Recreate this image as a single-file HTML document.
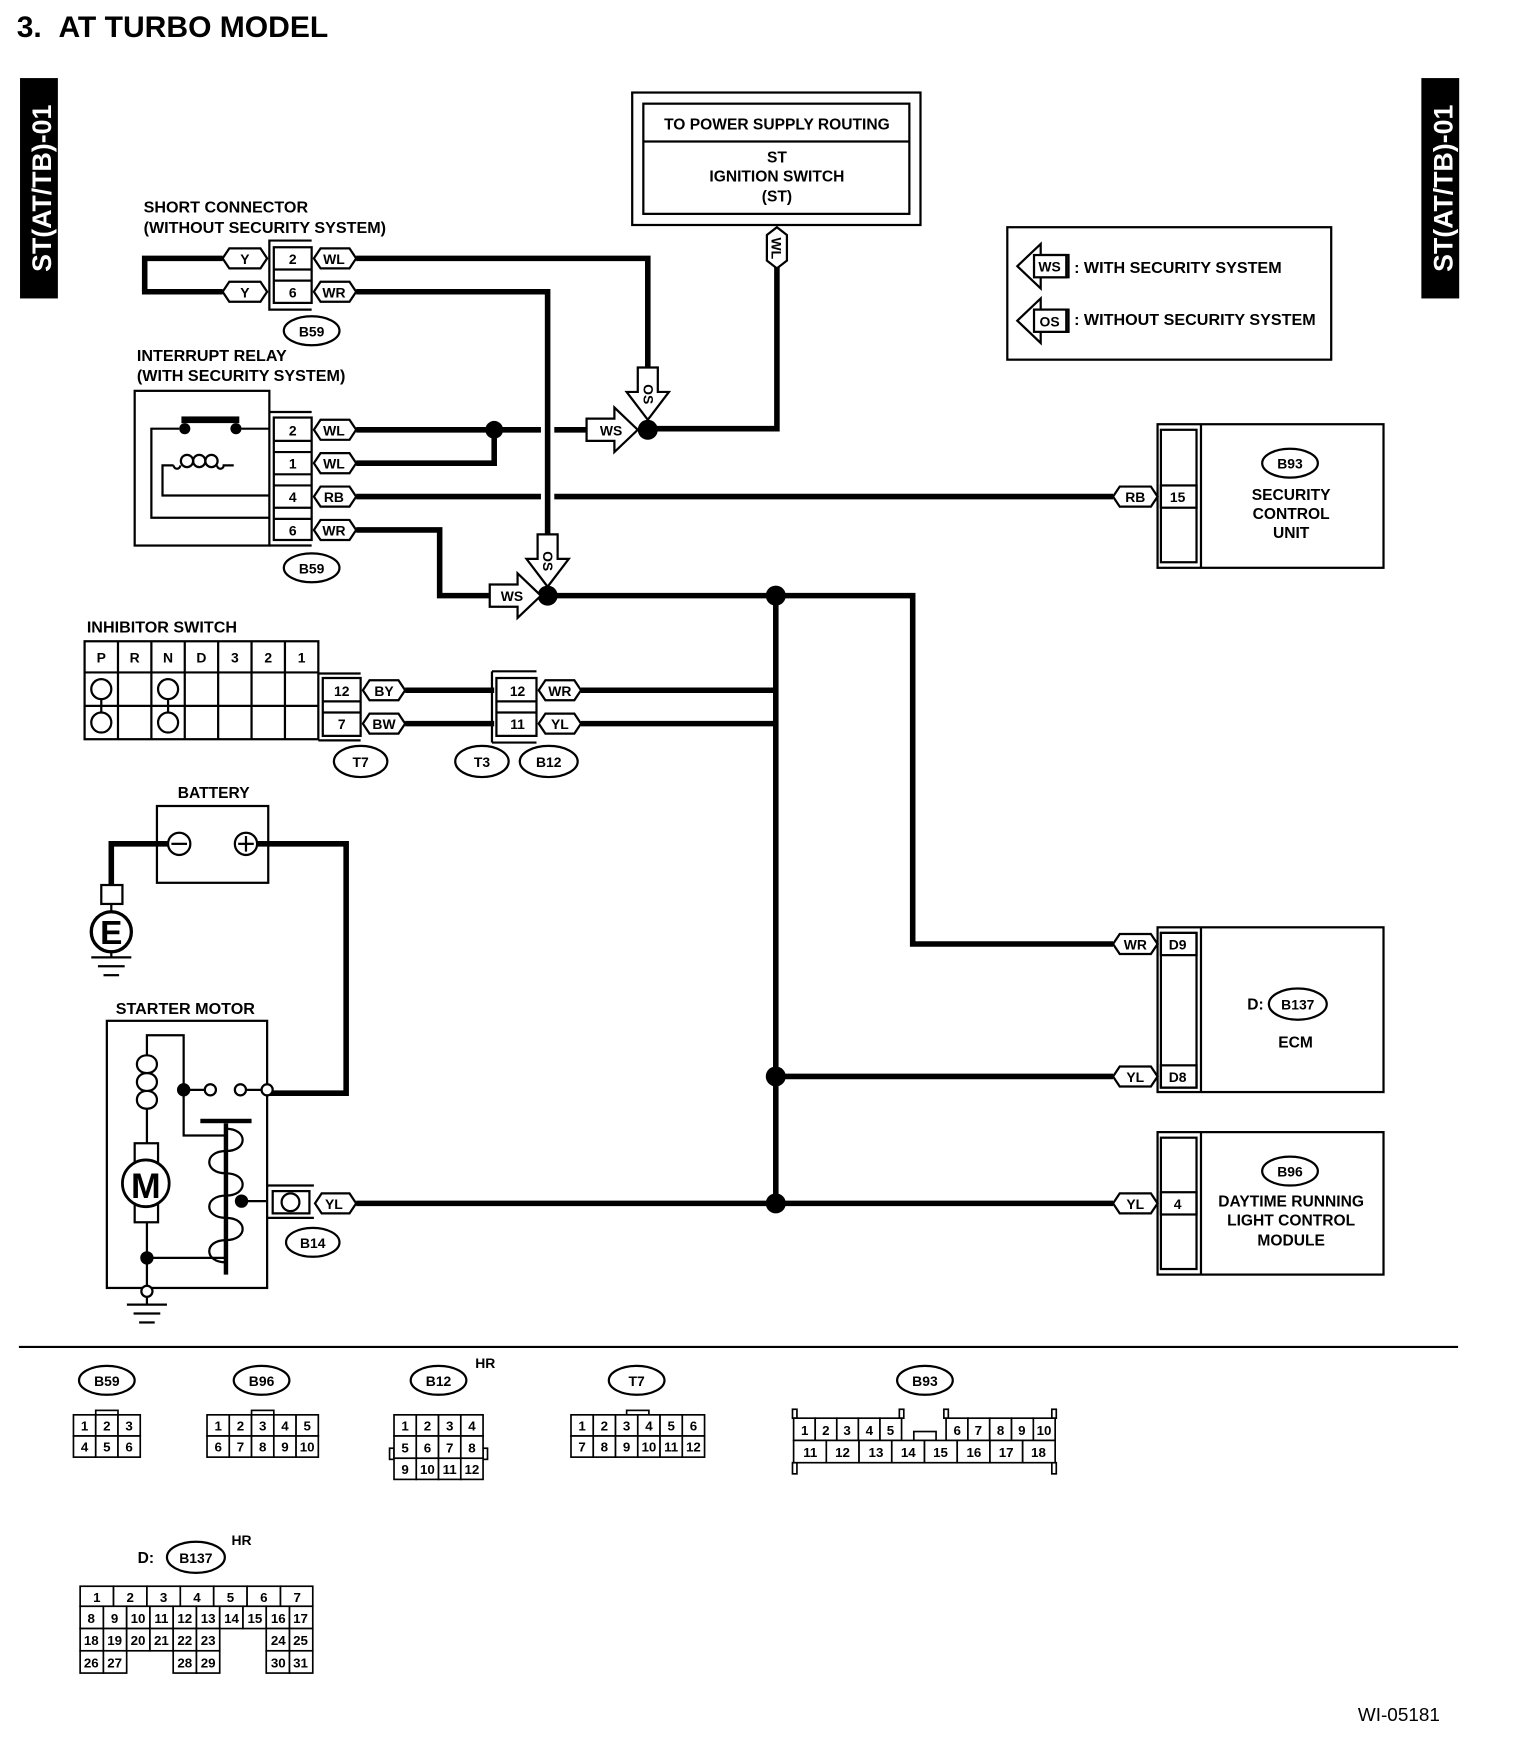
<!DOCTYPE html>
<html><head><meta charset="utf-8"><style>
html,body{margin:0;padding:0;background:#fff;}
svg{display:block;}
text{font-family:"Liberation Sans",sans-serif;font-weight:bold;fill:#000;}
.t{font-size:14.5px;}
.s{font-size:12.5px;text-anchor:middle;}
.w{fill:none;stroke:#000;stroke-width:5;}
.l{fill:none;stroke:#000;stroke-width:2;}
.tg{fill:#fff;stroke:#000;stroke-width:2;}
.c{fill:#fff;stroke:#000;stroke-width:1.5;}
.g{font-size:12px;font-weight:normal;text-anchor:middle;}
</style></head><body>
<svg width="1536" height="1740" viewBox="0 0 1380 1563" xmlns="http://www.w3.org/2000/svg">
<rect width="1380" height="1563" fill="#fff"/>
<text x="15" y="33" style="font-size:27px">3.&#160;&#160;AT TURBO MODEL</text>
<rect x="18" y="70" width="34" height="198" fill="#000"/>
<text transform="translate(46,169) rotate(-90)" style="font-size:24px;fill:#fff;text-anchor:middle">ST(AT/TB)-01</text>
<rect x="1277" y="70" width="34" height="198" fill="#000"/>
<text transform="translate(1305,169) rotate(-90)" style="font-size:24px;fill:#fff;text-anchor:middle">ST(AT/TB)-01</text>

<!-- power supply box -->
<rect x="568" y="83" width="259" height="119" class="l"/>
<rect x="578" y="93" width="239" height="99" class="l"/>
<line x1="578" y1="127" x2="817" y2="127" class="l"/>
<text x="698" y="116" class="s" style="font-size:14px">TO POWER SUPPLY ROUTING</text>
<text x="698" y="146" class="s" style="font-size:14px">ST</text>
<text x="698" y="163" class="s" style="font-size:14px">IGNITION SWITCH</text>
<text x="698" y="181" class="s" style="font-size:14px">(ST)</text>

<!-- legend -->
<rect x="905" y="204" width="291" height="119" class="l"/>
<polygon points="960,229 935,229 935,219 914,239 935,259 935,249 960,249" class="tg"/>
<rect x="929" y="229" width="29" height="20" class="tg"/>
<text x="943" y="244" class="s">WS</text>
<text x="965" y="245" class="t">: WITH SECURITY SYSTEM</text>
<polygon points="960,278 935,278 935,268 914,288 935,308 935,298 960,298" class="tg"/>
<rect x="929" y="278" width="29" height="20" class="tg"/>
<text x="943" y="293" class="s">OS</text>
<text x="965" y="292" class="t">: WITHOUT SECURITY SYSTEM</text>

<!-- wires -->
<polyline points="698,240 698,385 582,385" class="w"/>
<polyline points="320,232 582,232 582,340" class="w"/>
<polyline points="320,262 492,262 492,490" class="w"/>
<polyline points="200,232 130,232 130,262 200,262" class="w"/>
<polyline points="320,386 486,386" class="w"/>
<polyline points="498,386 527,386" class="w"/>
<polyline points="320,416 444,416 444,386" class="w"/>
<polyline points="320,446 486,446" class="w"/>
<polyline points="498,446 1000,446" class="w"/>
<polyline points="320,476 395,476 395,535 440,535" class="w"/>
<polyline points="492,535 820,535 820,848 1000,848" class="w"/>
<polyline points="697,535 697,1081" class="w"/>
<polyline points="364,620 444,620" class="w"/>
<polyline points="364,650 444,650" class="w"/>
<polyline points="522,620 697,620" class="w"/>
<polyline points="522,650 697,650" class="w"/>
<polyline points="697,967 1000,967" class="w"/>
<polyline points="320,1081 1000,1081" class="w"/>
<polyline points="161,758 100,758 100,795" class="w"/>
<polyline points="221,758 311,758 311,982 240,982" class="w"/>
<circle cx="444" cy="386" r="8"/>
<circle cx="582" cy="386" r="9"/>
<circle cx="492" cy="535" r="9"/>
<circle cx="697" cy="535" r="9"/>
<circle cx="697" cy="967" r="9"/>
<circle cx="697" cy="1081" r="9"/>

<!-- WL vertical tag -->
<polygon points="689,211 698,204 707,211 707,234 698,241 689,234" class="tg"/>
<text transform="translate(693,223) rotate(90)" class="s">WL</text>

<!-- OS/WS arrows -->
<polygon points="573,330 591,330 591,352 601,352 582,377 563,352 573,352" class="tg"/>
<text transform="translate(578,354) rotate(90)" class="s">OS</text>
<polygon points="527,376 552,376 552,366 573,386 552,406 552,396 527,396" class="tg"/>
<text x="549" y="391" class="s">WS</text>
<polygon points="483,480 501,480 501,502 511,502 492,527 473,502 483,502" class="tg"/>
<text transform="translate(488,504) rotate(90)" class="s">OS</text>
<polygon points="440,525 465,525 465,515 486,535 465,555 465,545 440,545" class="tg"/>
<text x="460" y="540" class="s">WS</text>

<!-- short connector -->
<text x="129" y="191" class="t">SHORT CONNECTOR</text>
<text x="129" y="209" class="t">(WITHOUT SECURITY SYSTEM)</text>
<polyline points="280,216 242,216 242,278 280,278" class="l"/>
<rect x="246" y="222" width="34" height="50" class="l"/>
<line x1="246" y1="242" x2="280" y2="242" class="l"/><line x1="246" y1="252" x2="280" y2="252" class="l"/>
<text x="263" y="237" class="s">2</text><text x="263" y="267" class="s">6</text>
<polygon points="206,223 234,223 240,232 234,241 206,241 200,232" class="tg"/><text x="220" y="237" class="s">Y</text>
<polygon points="206,253 234,253 240,262 234,271 206,271 200,262" class="tg"/><text x="220" y="267" class="s">Y</text>
<polygon points="288,223 314,223 320,232 314,241 288,241 282,232" class="tg"/><text x="300" y="237" class="s">WL</text>
<polygon points="288,253 314,253 320,262 314,271 288,271 282,262" class="tg"/><text x="300" y="267" class="s">WR</text>
<ellipse cx="280" cy="297" rx="25" ry="13" class="l"/><text x="280" y="302" class="s">B59</text>

<!-- interrupt relay -->
<text x="123" y="324" class="t">INTERRUPT RELAY</text>
<text x="123" y="342" class="t">(WITH SECURITY SYSTEM)</text>
<rect x="121" y="351" width="121" height="139" class="l"/>
<line x1="242" y1="370" x2="280" y2="370" class="l"/><line x1="242" y1="490" x2="280" y2="490" class="l"/>
<rect x="246" y="375" width="34" height="110" class="l"/>
<line x1="246" y1="396" x2="280" y2="396" class="l"/><line x1="246" y1="406" x2="280" y2="406" class="l"/>
<line x1="246" y1="426" x2="280" y2="426" class="l"/><line x1="246" y1="436" x2="280" y2="436" class="l"/>
<line x1="246" y1="456" x2="280" y2="456" class="l"/><line x1="246" y1="466" x2="280" y2="466" class="l"/>
<text x="263" y="391" class="s">2</text><text x="263" y="421" class="s">1</text><text x="263" y="451" class="s">4</text><text x="263" y="481" class="s">6</text>
<polygon points="288,377 314,377 320,386 314,395 288,395 282,386" class="tg"/><text x="300" y="391" class="s">WL</text>
<polygon points="288,407 314,407 320,416 314,425 288,425 282,416" class="tg"/><text x="300" y="421" class="s">WL</text>
<polygon points="288,437 314,437 320,446 314,455 288,455 282,446" class="tg"/><text x="300" y="451" class="s">RB</text>
<polygon points="288,467 314,467 320,476 314,485 288,485 282,476" class="tg"/><text x="300" y="481" class="s">WR</text>
<rect x="163" y="374" width="52" height="6"/>
<circle cx="166" cy="385" r="5"/><circle cx="212" cy="385" r="5"/>
<polyline points="161,385 136,385 136,465 242,465" class="l"/>
<polyline points="217,385 242,385" class="l"/>
<polyline points="242,445 146,445 146,418 156,418" class="l"/>
<path d="M156,418 a3,3 0 0 0 6,0" class="l"/>
<circle cx="168" cy="414" r="5.5" class="l"/><circle cx="179" cy="414" r="5.5" class="l"/><circle cx="190" cy="414" r="5.5" class="l"/>
<path d="M195,418 a3,3 0 0 0 6,0 L210,418" class="l"/>
<ellipse cx="280" cy="510" rx="25" ry="13" class="l"/><text x="280" y="515" class="s">B59</text>

<!-- inhibitor switch -->
<text x="78" y="568" class="t">INHIBITOR SWITCH</text>
<rect x="76" y="576" width="210" height="88" class="l"/>
<line x1="76" y1="604" x2="286" y2="604" class="l"/><line x1="76" y1="634" x2="286" y2="634" class="l"/>
<line x1="106" y1="576" x2="106" y2="664" class="l"/><line x1="136" y1="576" x2="136" y2="664" class="l"/>
<line x1="166" y1="576" x2="166" y2="664" class="l"/><line x1="196" y1="576" x2="196" y2="664" class="l"/>
<line x1="226" y1="576" x2="226" y2="664" class="l"/><line x1="256" y1="576" x2="256" y2="664" class="l"/>
<text x="91" y="595" class="s">P</text><text x="121" y="595" class="s">R</text><text x="151" y="595" class="s">N</text><text x="181" y="595" class="s">D</text><text x="211" y="595" class="s">3</text><text x="241" y="595" class="s">2</text><text x="271" y="595" class="s">1</text>
<line x1="91" y1="619" x2="91" y2="649" class="l"/><line x1="151" y1="619" x2="151" y2="649" class="l"/>
<circle cx="91" cy="619" r="9" class="tg"/><circle cx="91" cy="649" r="9" class="tg"/>
<circle cx="151" cy="619" r="9" class="tg"/><circle cx="151" cy="649" r="9" class="tg"/>

<!-- T7 -->
<rect x="290" y="609" width="34" height="52" class="l"/>
<line x1="290" y1="630" x2="324" y2="630" class="l"/><line x1="290" y1="640" x2="324" y2="640" class="l"/>
<line x1="286" y1="605" x2="324" y2="605" class="l"/><line x1="286" y1="665" x2="324" y2="665" class="l"/>
<text x="307" y="625" class="s">12</text><text x="307" y="655" class="s">7</text>
<polygon points="332,611 358,611 364,620 358,629 332,629 326,620" class="tg"/><text x="345" y="625" class="s">BY</text>
<polygon points="332,641 358,641 364,650 358,659 332,659 326,650" class="tg"/><text x="345" y="655" class="s">BW</text>
<!-- T3/B12 -->
<line x1="442" y1="603" x2="482" y2="603" class="l"/><line x1="442" y1="603" x2="442" y2="667" class="l"/><line x1="442" y1="667" x2="482" y2="667" class="l"/>
<rect x="446" y="609" width="36" height="52" class="l"/>
<line x1="446" y1="630" x2="482" y2="630" class="l"/><line x1="446" y1="640" x2="482" y2="640" class="l"/>
<text x="465" y="625" class="s">12</text><text x="465" y="655" class="s">11</text>
<polygon points="490,611 516,611 522,620 516,629 490,629 484,620" class="tg"/><text x="503" y="625" class="s">WR</text>
<polygon points="490,641 516,641 522,650 516,659 490,659 484,650" class="tg"/><text x="503" y="655" class="s">YL</text>
<ellipse cx="324" cy="684" rx="24" ry="14" class="l"/><text x="324" y="689" class="s">T7</text>
<ellipse cx="433" cy="684" rx="24" ry="14" class="l"/><text x="433" y="689" class="s">T3</text>
<ellipse cx="493" cy="684" rx="26" ry="14" class="l"/><text x="493" y="689" class="s">B12</text>

<!-- battery -->
<text x="192" y="717" class="s" style="font-size:14px">BATTERY</text>
<rect x="141" y="724" width="100" height="69" class="l"/>
<circle cx="161" cy="758" r="10" class="tg"/><line x1="154" y1="758" x2="168" y2="758" class="l"/>
<circle cx="221" cy="758" r="10" class="tg"/><line x1="214" y1="758" x2="228" y2="758" class="l"/><line x1="221" y1="751" x2="221" y2="765" class="l"/>
<rect x="91" y="795" width="19" height="17" class="tg"/>
<line x1="100" y1="812" x2="100" y2="819" class="l"/>
<circle cx="100" cy="837" r="18" class="tg" style="stroke-width:3"/>
<text x="100" y="848" style="font-size:30px;text-anchor:middle">E</text>
<line x1="100" y1="855" x2="100" y2="860" class="l"/>
<line x1="82" y1="860" x2="118" y2="860" class="l"/><line x1="88" y1="868" x2="112" y2="868" class="l"/><line x1="93" y1="876" x2="107" y2="876" class="l"/>

<!-- starter motor -->
<text x="104" y="911" class="t">STARTER MOTOR</text>
<rect x="96" y="917" width="144" height="240" class="l"/>
<polyline points="132,948 132,930 165,930 165,1020 204,1020" class="l"/>
<path d="M132,948 c-12,0 -12,16 0,16 c-12,0 -12,16 0,16 c-12,0 -12,16 0,16 M132,948 c12,0 12,16 0,16 c12,0 12,16 0,16 c12,0 12,16 0,16" class="l"/>
<line x1="132" y1="996" x2="132" y2="1027" class="l"/>
<rect x="121" y="1027" width="21" height="71" class="tg"/>
<circle cx="131" cy="1063" r="21" class="tg" style="stroke-width:2.5"/>
<text x="131" y="1076" style="font-size:32px;text-anchor:middle">M</text>
<polyline points="132,1098 132,1157" class="l"/>
<line x1="132" y1="1130" x2="204" y2="1130" class="l"/>
<circle cx="132" cy="1130" r="6"/>
<line x1="165" y1="979" x2="189" y2="979" class="l"/><line x1="216" y1="979" x2="240" y2="979" class="l"/>
<circle cx="165" cy="979" r="6"/>
<circle cx="189" cy="979" r="5" class="tg"/><circle cx="216" cy="979" r="5" class="tg"/><circle cx="240" cy="979" r="5" class="tg"/>
<rect x="180" y="1005" width="46" height="4"/>
<line x1="203" y1="1009" x2="203" y2="1145" class="l" style="stroke-width:4"/>
<path d="M203,1014 c20,0 20,20 0,20 c-20,0 -20,20 0,20 c20,0 20,20 0,20 c-20,0 -20,20 0,20 c20,0 20,20 0,20 c-20,0 -20,20 0,20" class="l"/>
<circle cx="217" cy="1079" r="6"/>
<line x1="217" y1="1079" x2="240" y2="1079" class="l"/>
<line x1="240" y1="1065" x2="282" y2="1065" class="l"/><line x1="240" y1="1094" x2="282" y2="1094" class="l"/>
<rect x="245" y="1070" width="33" height="20" class="tg"/>
<circle cx="261" cy="1080" r="8" class="tg"/>
<polygon points="289,1072 314,1072 320,1081 314,1090 289,1090 283,1081" class="tg"/><text x="300" y="1086" class="s">YL</text>
<ellipse cx="281" cy="1116" rx="24" ry="13" class="l"/><text x="281" y="1121" class="s">B14</text>
<circle cx="132" cy="1160" r="5" class="tg"/>
<line x1="132" y1="1165" x2="132" y2="1172" class="l"/>
<line x1="114" y1="1172" x2="150" y2="1172" class="l"/><line x1="120" y1="1180" x2="144" y2="1180" class="l"/><line x1="125" y1="1188" x2="139" y2="1188" class="l"/>

<!-- B93 security -->
<rect x="1040" y="381" width="203" height="129" class="l"/>
<line x1="1079" y1="381" x2="1079" y2="510" class="l"/>
<rect x="1043" y="386" width="32" height="119" class="l"/>
<rect x="1043" y="436" width="32" height="20" class="l"/>
<text x="1058" y="451" class="s">15</text>
<polygon points="1006,437 1034,437 1040,446 1034,455 1006,455 1000,446" class="tg"/><text x="1020" y="451" class="s">RB</text>
<ellipse cx="1159" cy="416" rx="25" ry="13" class="l"/><text x="1159" y="421" class="s">B93</text>
<text x="1160" y="449" class="s" style="font-size:14px">SECURITY</text>
<text x="1160" y="466" class="s" style="font-size:14px">CONTROL</text>
<text x="1160" y="483" class="s" style="font-size:14px">UNIT</text>

<!-- ECM -->
<rect x="1040" y="833" width="203" height="148" class="l"/>
<line x1="1079" y1="833" x2="1079" y2="981" class="l"/>
<rect x="1043" y="838" width="32" height="139" class="l"/>
<rect x="1043" y="838" width="32" height="20" class="l"/>
<rect x="1043" y="957" width="32" height="20" class="l"/>
<text x="1058" y="853" class="s">D9</text><text x="1058" y="972" class="s">D8</text>
<polygon points="1006,839 1034,839 1040,848 1034,857 1006,857 1000,848" class="tg"/><text x="1020" y="853" class="s">WR</text>
<polygon points="1006,958 1034,958 1040,967 1034,976 1006,976 1000,967" class="tg"/><text x="1020" y="972" class="s">YL</text>
<text x="1128" y="907" class="s" style="font-size:14px">D:</text>
<ellipse cx="1166" cy="902" rx="26" ry="14" class="l"/><text x="1166" y="907" class="s">B137</text>
<text x="1164" y="941" class="s" style="font-size:14px">ECM</text>

<!-- B96 -->
<rect x="1040" y="1017" width="203" height="128" class="l"/>
<line x1="1079" y1="1017" x2="1079" y2="1145" class="l"/>
<rect x="1043" y="1022" width="32" height="118" class="l"/>
<rect x="1043" y="1071" width="32" height="20" class="l"/>
<text x="1058" y="1086" class="s">4</text>
<polygon points="1006,1072 1034,1072 1040,1081 1034,1090 1006,1090 1000,1081" class="tg"/><text x="1020" y="1086" class="s">YL</text>
<ellipse cx="1159" cy="1052" rx="25" ry="13" class="l"/><text x="1159" y="1057" class="s">B96</text>
<text x="1160" y="1084" class="s" style="font-size:14px">DAYTIME RUNNING</text>
<text x="1160" y="1101" class="s" style="font-size:14px">LIGHT CONTROL</text>
<text x="1160" y="1119" class="s" style="font-size:14px">MODULE</text>

<line x1="17" y1="1210" x2="1310" y2="1210" class="l"/>

<!-- bottom connectors -->
<ellipse cx="96" cy="1240" rx="25" ry="13" class="l"/><text x="96" y="1245" class="s">B59</text>
<ellipse cx="235" cy="1240" rx="25" ry="13" class="l"/><text x="235" y="1245" class="s">B96</text>
<ellipse cx="394" cy="1240" rx="25" ry="13" class="l"/><text x="394" y="1245" class="s">B12</text>
<text x="436" y="1229" class="s">HR</text>
<ellipse cx="572" cy="1240" rx="25" ry="13" class="l"/><text x="572" y="1245" class="s">T7</text>
<ellipse cx="831" cy="1240" rx="25" ry="13" class="l"/><text x="831" y="1245" class="s">B93</text>

<g class="c">
<rect x="86" y="1267" width="20" height="4"/>
<rect x="66" y="1271" width="20" height="19"/><rect x="86" y="1271" width="20" height="19"/><rect x="106" y="1271" width="20" height="19"/>
<rect x="66" y="1290" width="20" height="19"/><rect x="86" y="1290" width="20" height="19"/><rect x="106" y="1290" width="20" height="19"/>
<rect x="226" y="1267" width="20" height="4"/>
<rect x="186" y="1271" width="20" height="19"/><rect x="206" y="1271" width="20" height="19"/><rect x="226" y="1271" width="20" height="19"/><rect x="246" y="1271" width="20" height="19"/><rect x="266" y="1271" width="20" height="19"/>
<rect x="186" y="1290" width="20" height="19"/><rect x="206" y="1290" width="20" height="19"/><rect x="226" y="1290" width="20" height="19"/><rect x="246" y="1290" width="20" height="19"/><rect x="266" y="1290" width="20" height="19"/>
<rect x="350" y="1301" width="4" height="10"/><rect x="434" y="1301" width="4" height="10"/>
<rect x="354" y="1271" width="20" height="19"/><rect x="374" y="1271" width="20" height="19"/><rect x="394" y="1271" width="20" height="19"/><rect x="414" y="1271" width="20" height="19"/>
<rect x="354" y="1290" width="20" height="20"/><rect x="374" y="1290" width="20" height="20"/><rect x="394" y="1290" width="20" height="20"/><rect x="414" y="1290" width="20" height="20"/>
<rect x="354" y="1310" width="20" height="19"/><rect x="374" y="1310" width="20" height="19"/><rect x="394" y="1310" width="20" height="19"/><rect x="414" y="1310" width="20" height="19"/>
<rect x="563" y="1267" width="20" height="4"/>
<rect x="513" y="1271" width="20" height="19"/><rect x="533" y="1271" width="20" height="19"/><rect x="553" y="1271" width="20" height="19"/><rect x="573" y="1271" width="20" height="19"/><rect x="593" y="1271" width="20" height="19"/><rect x="613" y="1271" width="20" height="19"/>
<rect x="513" y="1290" width="20" height="19"/><rect x="533" y="1290" width="20" height="19"/><rect x="553" y="1290" width="20" height="19"/><rect x="573" y="1290" width="20" height="19"/><rect x="593" y="1290" width="20" height="19"/><rect x="613" y="1290" width="20" height="19"/>
<rect x="712" y="1266" width="4" height="8"/><rect x="808" y="1266" width="4" height="8"/><rect x="848" y="1266" width="4" height="8"/><rect x="945" y="1266" width="4" height="8"/>
<rect x="712" y="1314" width="4" height="10"/><rect x="945" y="1314" width="4" height="10"/>
<rect x="821" y="1286" width="20" height="8"/>
<rect x="713" y="1274" width="19.4" height="20"/><rect x="732.4" y="1274" width="19.4" height="20"/><rect x="751.8" y="1274" width="19.4" height="20"/><rect x="771.2" y="1274" width="19.4" height="20"/><rect x="790.6" y="1274" width="19.4" height="20"/>
<rect x="850" y="1274" width="19.6" height="20"/><rect x="869.6" y="1274" width="19.6" height="20"/><rect x="889.2" y="1274" width="19.6" height="20"/><rect x="908.8" y="1274" width="19.6" height="20"/><rect x="928.4" y="1274" width="19.6" height="20"/>
<rect x="713" y="1294" width="29.4" height="20"/><rect x="742.4" y="1294" width="29.4" height="20"/><rect x="771.8" y="1294" width="29.4" height="20"/><rect x="801.2" y="1294" width="29.4" height="20"/><rect x="830.6" y="1294" width="29.4" height="20"/><rect x="860" y="1294" width="29.4" height="20"/><rect x="889.4" y="1294" width="29.4" height="20"/><rect x="918.8" y="1294" width="29.2" height="20"/>
<rect x="72" y="1425" width="30" height="18"/><rect x="102" y="1425" width="30" height="18"/><rect x="132" y="1425" width="30" height="18"/><rect x="162" y="1425" width="30" height="18"/><rect x="192" y="1425" width="30" height="18"/><rect x="222" y="1425" width="30" height="18"/><rect x="252" y="1425" width="29" height="18"/>
<rect x="72" y="1443" width="20.9" height="20"/><rect x="92.9" y="1443" width="20.9" height="20"/><rect x="113.8" y="1443" width="20.9" height="20"/><rect x="134.7" y="1443" width="20.9" height="20"/><rect x="155.6" y="1443" width="20.9" height="20"/><rect x="176.5" y="1443" width="20.9" height="20"/><rect x="197.4" y="1443" width="20.9" height="20"/><rect x="218.3" y="1443" width="20.9" height="20"/><rect x="239.2" y="1443" width="20.9" height="20"/><rect x="260.1" y="1443" width="20.9" height="20"/>
<rect x="72" y="1463" width="20.9" height="20"/><rect x="92.9" y="1463" width="20.9" height="20"/><rect x="113.8" y="1463" width="20.9" height="20"/><rect x="134.7" y="1463" width="20.9" height="20"/><rect x="155.6" y="1463" width="20.9" height="20"/><rect x="176.5" y="1463" width="20.9" height="20"/><rect x="239.2" y="1463" width="20.9" height="20"/><rect x="260.1" y="1463" width="20.9" height="20"/>
<rect x="72" y="1483" width="20.9" height="20"/><rect x="92.9" y="1483" width="20.9" height="20"/><rect x="155.6" y="1483" width="20.9" height="20"/><rect x="176.5" y="1483" width="20.9" height="20"/><rect x="239.2" y="1483" width="20.9" height="20"/><rect x="260.1" y="1483" width="20.9" height="20"/>
</g>
<g class="g">
<text x="76" y="1285">1</text><text x="96" y="1285">2</text><text x="116" y="1285">3</text>
<text x="76" y="1304">4</text><text x="96" y="1304">5</text><text x="116" y="1304">6</text>
<text x="196" y="1285">1</text><text x="216" y="1285">2</text><text x="236" y="1285">3</text><text x="256" y="1285">4</text><text x="276" y="1285">5</text>
<text x="196" y="1304">6</text><text x="216" y="1304">7</text><text x="236" y="1304">8</text><text x="256" y="1304">9</text><text x="276" y="1304">10</text>
<text x="364" y="1285">1</text><text x="384" y="1285">2</text><text x="404" y="1285">3</text><text x="424" y="1285">4</text>
<text x="364" y="1305">5</text><text x="384" y="1305">6</text><text x="404" y="1305">7</text><text x="424" y="1305">8</text>
<text x="364" y="1324">9</text><text x="384" y="1324">10</text><text x="404" y="1324">11</text><text x="424" y="1324">12</text>
<text x="523" y="1285">1</text><text x="543" y="1285">2</text><text x="563" y="1285">3</text><text x="583" y="1285">4</text><text x="603" y="1285">5</text><text x="623" y="1285">6</text>
<text x="523" y="1304">7</text><text x="543" y="1304">8</text><text x="563" y="1304">9</text><text x="583" y="1304">10</text><text x="603" y="1304">11</text><text x="623" y="1304">12</text>
<text x="723" y="1289">1</text><text x="742" y="1289">2</text><text x="761" y="1289">3</text><text x="781" y="1289">4</text><text x="800" y="1289">5</text>
<text x="860" y="1289">6</text><text x="879" y="1289">7</text><text x="899" y="1289">8</text><text x="918" y="1289">9</text><text x="938" y="1289">10</text>
<text x="728" y="1309">11</text><text x="757" y="1309">12</text><text x="787" y="1309">13</text><text x="816" y="1309">14</text><text x="845" y="1309">15</text><text x="875" y="1309">16</text><text x="904" y="1309">17</text><text x="933" y="1309">18</text>
<text x="87" y="1439">1</text><text x="117" y="1439">2</text><text x="147" y="1439">3</text><text x="177" y="1439">4</text><text x="207" y="1439">5</text><text x="237" y="1439">6</text><text x="267" y="1439">7</text>
<text x="82" y="1458">8</text><text x="103" y="1458">9</text><text x="124" y="1458">10</text><text x="145" y="1458">11</text><text x="166" y="1458">12</text><text x="187" y="1458">13</text><text x="208" y="1458">14</text><text x="229" y="1458">15</text><text x="250" y="1458">16</text><text x="270" y="1458">17</text>
<text x="82" y="1478">18</text><text x="103" y="1478">19</text><text x="124" y="1478">20</text><text x="145" y="1478">21</text><text x="166" y="1478">22</text><text x="187" y="1478">23</text><text x="250" y="1478">24</text><text x="270" y="1478">25</text>
<text x="82" y="1498">26</text><text x="103" y="1498">27</text><text x="166" y="1498">28</text><text x="187" y="1498">29</text><text x="250" y="1498">30</text><text x="270" y="1498">31</text>
</g>
<text x="131" y="1404" class="s" style="font-size:14px">D:</text>
<ellipse cx="176" cy="1399" rx="26" ry="14" class="l"/><text x="176" y="1404" class="s">B137</text>
<text x="217" y="1388" class="s">HR</text>
<text x="1220" y="1546" style="font-size:17px;font-weight:normal">WI-05181</text>
</svg>
</body></html>
